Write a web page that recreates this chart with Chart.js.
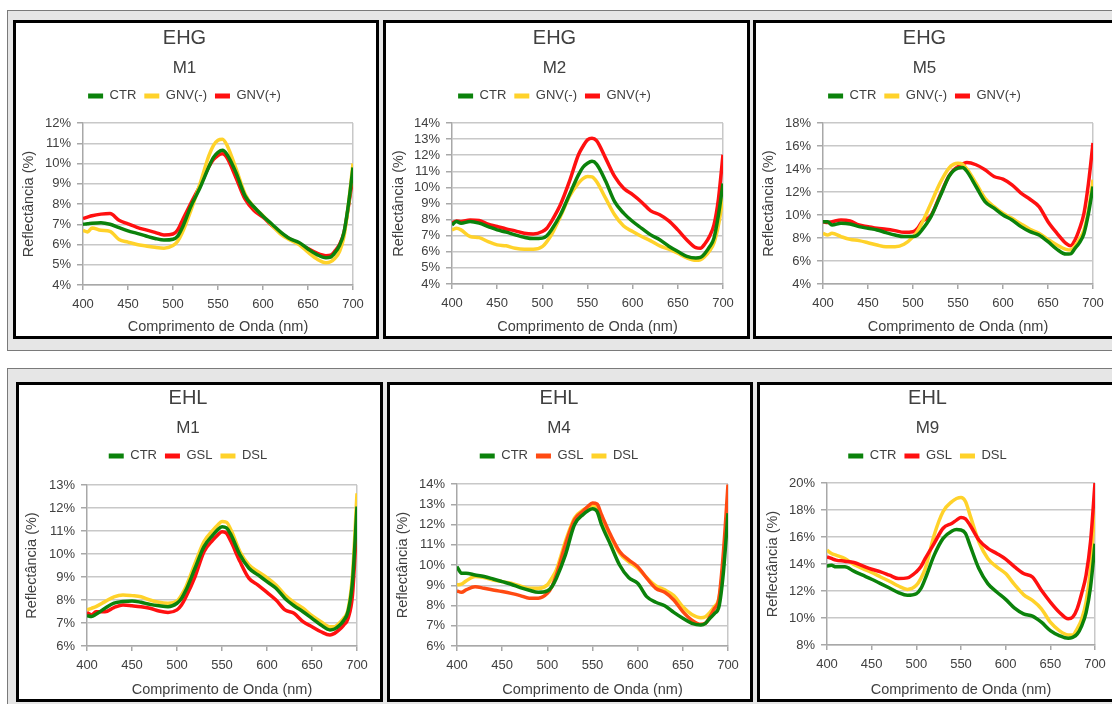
<!DOCTYPE html>
<html>
<head>
<meta charset="utf-8">
<script src="https://cdn.jsdelivr.net/npm/chart.js@4.4.1/dist/chart.umd.min.js"></script>
<style>
  html, body { margin:0; padding:0; background:#ffffff; width:1112px; height:704px; overflow:hidden; }
  .group { position:absolute; background:#e6e6e6; border:1px solid #7a7a7a; box-sizing:border-box; }
  .panel { position:absolute; background:#ffffff; border:3px solid #000000; }
  .panel canvas { display:block; }
</style>
</head>
<body>
<div class="group" style="left:7px;top:10px;width:1130px;height:341px;"></div>
<div class="group" style="left:7px;top:368px;width:1130px;height:360px;"></div>

<div class="panel" style="left:13px;top:20px;width:360px;height:313px;"><canvas id="c1" width="360" height="313"></canvas></div>
<div class="panel" style="left:383px;top:20px;width:361px;height:313px;"><canvas id="c2" width="361" height="313"></canvas></div>
<div class="panel" style="left:753px;top:20px;width:360px;height:313px;"><canvas id="c3" width="360" height="313"></canvas></div>
<div class="panel" style="left:16px;top:382px;width:361px;height:314px;"><canvas id="c4" width="361" height="314"></canvas></div>
<div class="panel" style="left:387px;top:382px;width:360px;height:314px;"><canvas id="c5" width="360" height="314"></canvas></div>
<div class="panel" style="left:757px;top:382px;width:360px;height:314px;"><canvas id="c6" width="360" height="314"></canvas></div>

<script>
// ---------- DATA ----------
const wavelengths = [400,405,410,420,430,440,450,460,470,480,490,500,505,510,520,530,540,545,550,555,560,570,580,590,600,610,620,630,640,650,660,670,675,680,685,690,695,700];

const ehgNames = ['CTR', 'GNV(-)', 'GNV(+)'];
const ehlNames = ['CTR', 'GSL', 'DSL'];

// EHG M1
const ehgM1Ctr    = [7.00,7.02,7.05,7.08,7.00,6.83,6.67,6.55,6.42,6.30,6.22,6.26,6.40,6.80,7.90,8.80,9.85,10.30,10.55,10.65,10.45,9.55,8.40,7.85,7.40,7.00,6.60,6.28,6.10,5.78,5.50,5.35,5.38,5.60,5.95,6.60,8.00,9.80];
const ehgM1GnvNeg = [6.70,6.62,6.82,6.70,6.65,6.25,6.12,6.00,5.93,5.86,5.82,5.95,6.15,6.55,7.70,9.00,10.40,10.90,11.15,11.20,10.90,9.75,8.50,7.85,7.42,6.95,6.50,6.22,6.00,5.62,5.28,5.10,5.15,5.32,5.65,6.40,8.00,10.00];
const ehgM1GnvPos = [7.28,7.35,7.42,7.50,7.53,7.20,7.02,6.85,6.72,6.60,6.47,6.52,6.70,7.15,8.05,8.90,9.85,10.20,10.40,10.48,10.28,9.30,8.25,7.68,7.35,6.93,6.55,6.27,6.05,5.80,5.57,5.45,5.47,5.68,6.00,6.60,7.90,9.40];
const ehgM1Y = [4, 12, 1];

// EHG M2
const ehgM2Ctr    = [7.67,7.88,7.78,7.88,7.78,7.57,7.36,7.22,7.05,6.90,6.82,6.85,7.00,7.36,8.30,9.55,10.78,11.25,11.50,11.62,11.45,10.40,9.12,8.40,7.88,7.46,7.05,6.75,6.35,6.02,5.72,5.62,5.65,5.90,6.30,6.85,8.30,10.25];
const ehgM2GnvNeg = [7.36,7.46,7.36,6.95,6.88,6.63,6.43,6.37,6.22,6.16,6.16,6.32,6.63,7.05,8.19,9.44,10.27,10.55,10.68,10.65,10.37,9.33,8.30,7.60,7.26,6.95,6.68,6.37,6.16,5.91,5.62,5.47,5.50,5.72,6.05,6.55,7.67,9.35];
const ehgM2GnvPos = [7.78,7.92,7.88,7.98,7.95,7.71,7.57,7.42,7.30,7.15,7.11,7.26,7.46,7.88,8.92,10.37,12.03,12.55,12.95,13.05,12.90,11.82,10.68,9.95,9.55,9.08,8.54,8.30,7.92,7.36,6.74,6.26,6.22,6.50,6.95,7.67,9.30,12.03];
const ehgM2Y = [4, 14, 1];

// EHG M5
const ehgM5Ctr    = [9.42,9.42,9.13,9.28,9.22,8.99,8.84,8.70,8.47,8.26,8.12,8.12,8.26,8.70,9.86,11.60,13.35,13.85,14.08,14.13,13.78,12.48,11.17,10.59,10.00,9.57,8.99,8.55,8.26,7.68,7.01,6.60,6.62,7.10,7.60,8.40,10.15,12.48];
const ehgM5GnvNeg = [8.41,8.26,8.41,8.12,7.88,7.77,7.59,7.39,7.24,7.24,7.45,8.10,8.60,9.30,11.02,12.77,14.08,14.40,14.51,14.42,13.99,12.77,11.46,10.73,10.15,9.71,9.22,8.76,8.41,7.88,7.39,7.01,6.95,7.30,7.90,8.70,10.44,13.06];
const ehgM5GnvPos = [9.42,9.35,9.42,9.57,9.48,9.13,8.99,8.84,8.76,8.64,8.49,8.55,8.84,9.42,9.95,11.70,13.40,13.90,14.20,14.42,14.57,14.37,13.93,13.35,13.12,12.62,11.90,11.37,10.73,9.42,8.41,7.53,7.33,7.83,8.80,10.15,12.77,16.26];
const ehgM5Y = [4, 18, 2];

// EHL M1
const ehlM1Ctr = [7.32,7.28,7.38,7.64,7.86,7.93,7.96,7.90,7.81,7.75,7.71,7.86,8.07,8.43,9.38,10.32,10.83,11.05,11.19,11.14,10.83,9.96,9.38,9.09,8.80,8.51,8.07,7.75,7.49,7.20,6.91,6.70,6.74,6.88,7.10,7.50,8.80,12.06];
const ehlM1Gsl = [7.46,7.35,7.49,7.49,7.67,7.78,7.75,7.71,7.64,7.52,7.46,7.57,7.78,8.14,9.01,10.10,10.61,10.82,10.97,10.90,10.54,9.67,8.94,8.65,8.33,8.00,7.57,7.42,7.06,6.84,6.62,6.48,6.55,6.70,6.90,7.20,8.22,11.55];
const ehlM1Dsl = [7.57,7.64,7.71,7.93,8.14,8.22,8.19,8.14,8.00,7.90,7.86,7.96,8.22,8.58,9.59,10.54,11.04,11.25,11.41,11.38,11.04,10.10,9.52,9.23,8.97,8.65,8.22,7.90,7.64,7.32,7.06,6.84,6.84,6.99,7.20,7.57,9.09,12.64];
const ehlM1Y = [6, 13, 1];

// EHL M4
const ehlM4Ctr = [9.92,9.59,9.59,9.51,9.43,9.31,9.18,9.05,8.88,8.75,8.65,8.72,8.93,9.35,10.50,11.99,12.51,12.68,12.78,12.65,11.99,11.00,10.00,9.38,9.10,8.44,8.16,7.99,7.66,7.37,7.12,7.04,7.12,7.37,7.60,7.94,9.68,12.56];
const ehlM4Gsl = [8.72,8.65,8.77,8.93,8.85,8.77,8.69,8.60,8.49,8.36,8.36,8.60,8.93,9.51,11.00,12.23,12.68,12.90,13.06,13.01,12.48,11.49,10.67,10.25,9.92,9.35,8.85,8.65,8.27,7.70,7.28,7.07,7.12,7.45,7.85,8.36,10.67,13.97];
const ehlM4Dsl = [9.02,9.05,9.21,9.43,9.38,9.26,9.18,9.10,8.97,8.85,8.85,9.02,9.35,9.76,11.16,12.32,12.73,12.85,12.94,12.84,12.32,11.41,10.58,10.17,9.84,9.38,8.98,8.77,8.49,7.94,7.56,7.40,7.45,7.66,7.95,8.36,10.17,13.14];
const ehlM4Y = [6, 14, 1];

// EHL M9
const ehlM9Ctr = [13.86,13.90,13.79,13.79,13.47,13.17,12.87,12.55,12.22,11.88,11.68,11.80,12.17,12.92,14.66,15.90,16.45,16.55,16.52,16.27,15.40,13.66,12.55,11.93,11.38,10.73,10.31,10.14,9.69,9.07,8.70,8.50,8.57,8.80,9.40,10.40,12.30,15.50];
const ehlM9Gsl = [14.53,14.41,14.29,14.21,14.11,13.86,13.61,13.42,13.17,12.92,12.97,13.42,13.79,14.41,15.53,16.65,17.02,17.25,17.44,17.34,16.89,15.78,15.16,14.78,14.36,13.79,13.29,13.04,12.05,11.18,10.43,9.94,10.06,10.68,11.80,13.17,15.65,20.00];
const ehlM9Dsl = [15.03,14.78,14.66,14.41,13.96,13.66,13.37,13.04,12.72,12.37,12.12,12.42,12.92,13.66,16.15,17.89,18.63,18.85,18.93,18.63,17.64,15.65,14.41,13.79,13.29,12.47,11.73,11.30,10.68,9.69,9.07,8.75,8.75,9.19,9.90,11.18,13.66,18.51];
const ehlM9Y = [8, 20, 2];

// ---------- STYLE ----------
const GREEN = '#0b820b', YELLOW = '#ffd22a', RED = '#ff1010', ORANGE = '#ff4a12';
const TEXT = '#404040', GRID = '#c8c8c8', AXIS = '#a8a8a8';
const FONT = "'Liberation Sans', Arial, sans-serif";

const panels = [
  {id:'c1', title:'EHG', sub:'M1', names:ehgNames, colors:[GREEN,YELLOW,RED], series:[ehgM1Ctr,ehgM1GnvNeg,ehgM1GnvPos], y:ehgM1Y, box:{left:67,right:23,top:100,xh:51,tTop:3}},
  {id:'c2', title:'EHG', sub:'M2', names:ehgNames, colors:[GREEN,YELLOW,RED], series:[ehgM2Ctr,ehgM2GnvNeg,ehgM2GnvPos], y:ehgM2Y, box:{left:66,right:24,top:100,xh:52,tTop:3}},
  {id:'c3', title:'EHG', sub:'M5', names:ehgNames, colors:[GREEN,YELLOW,RED], series:[ehgM5Ctr,ehgM5GnvNeg,ehgM5GnvPos], y:ehgM5Y, box:{left:67,right:23,top:100,xh:52,tTop:3}},
  {id:'c4', title:'EHL', sub:'M1', names:ehlNames, colors:[GREEN,RED,YELLOW], series:[ehlM1Ctr,ehlM1Gsl,ehlM1Dsl], y:ehlM1Y, box:{left:68,right:23,top:100,xh:53,tTop:1}},
  {id:'c5', title:'EHL', sub:'M4', names:ehlNames, colors:[GREEN,ORANGE,YELLOW], series:[ehlM4Ctr,ehlM4Gsl,ehlM4Dsl], y:ehlM4Y, box:{left:67,right:22,top:99,xh:53,tTop:1}},
  {id:'c6', title:'EHL', sub:'M9', names:ehlNames, colors:[GREEN,RED,YELLOW], series:[ehlM9Ctr,ehlM9Gsl,ehlM9Dsl], y:ehlM9Y, box:{left:67,right:25,top:98,xh:54,tTop:1}}
];

Chart.defaults.font.family = FONT;
Chart.defaults.color = TEXT;

function makeChart(p) {
  const b = p.box;
  const usedTop = b.tTop + 24 + 8 + 20.4 + 3 + 31;
  const padTop = Math.max(0, b.top - usedTop);
  const datasets = p.series.map((vals, i) => ({
    label: p.names[i],
    data: wavelengths.map((w, k) => ({x: w, y: vals[k]})),
    borderColor: p.colors[i],
    backgroundColor: p.colors[i],
    borderWidth: 3.5,
    pointRadius: 0,
    cubicInterpolationMode: 'monotone',
    fill: false
  }));
  new Chart(document.getElementById(p.id), {
    type: 'line',
    data: { datasets },
    options: {
      responsive: false,
      animation: false,
      devicePixelRatio: 1,
      layout: { padding: {left: 0, right: b.right, top: 0, bottom: 0} },
      plugins: {
        title: { display: true, text: p.title, color: TEXT, font: {size: 20, weight: 'normal', lineHeight: 1.2}, padding: {top: b.tTop, bottom: 0} },
        subtitle: { display: true, text: p.sub, color: TEXT, font: {size: 17, weight: 'normal', lineHeight: 1.2}, padding: {top: 8, bottom: 3} },
        legend: {
          display: true, position: 'top',
          labels: {
            color: TEXT, font: {size: 13}, boxWidth: 15, boxHeight: 5, padding: 8,
            generateLabels: (chart) => chart.data.datasets.map((ds, i) => ({
              text: ds.label, fillStyle: ds.borderColor, strokeStyle: ds.borderColor,
              lineWidth: 0, hidden: false, datasetIndex: i, fontColor: TEXT
            }))
          }
        },
        tooltip: { enabled: false }
      },
      scales: {
        x: {
          type: 'linear', position: 'bottom', min: 400, max: 700,
          ticks: { stepSize: 50, color: TEXT, font: {size: 13}, padding: 7, maxRotation: 0, autoSkip: false },
          grid: {
            drawOnChartArea: true, drawTicks: true, tickLength: 5, tickColor: AXIS, lineWidth: 1.5,
            color: (ctx) => (ctx.tick && ctx.tick.value === 700) ? GRID : 'rgba(0,0,0,0)'
          },
          border: { display: true, color: AXIS, width: 1.5 },
          title: { display: true, text: 'Comprimento de Onda (nm)', color: TEXT, font: {size: 14.5}, padding: {top: 0, bottom: 0} },
          afterFit: (s) => { s.height = b.xh; }
        },
        pad: {
          type: 'linear', position: 'top', display: true,
          ticks: { display: false }, grid: { display: false, drawTicks: false }, border: { display: false },
          afterFit: (s) => { s.height = padTop; }
        },
        y: {
          type: 'linear', position: 'left', min: p.y[0], max: p.y[1],
          ticks: { stepSize: p.y[2], color: TEXT, font: {size: 13}, padding: 6, autoSkip: false, callback: (v) => v + '%' },
          grid: { color: GRID, lineWidth: 1.5, drawTicks: true, tickLength: 6, tickColor: AXIS },
          border: { display: true, color: AXIS, width: 1.5 },
          title: { display: true, text: 'Reflectância (%)', color: TEXT, font: {size: 14.5}, padding: {top: 4, bottom: 0} },
          afterFit: (s) => { s.width = b.left; }
        }
      }
    }
  });
}

panels.forEach(makeChart);
</script>
</body>
</html>
